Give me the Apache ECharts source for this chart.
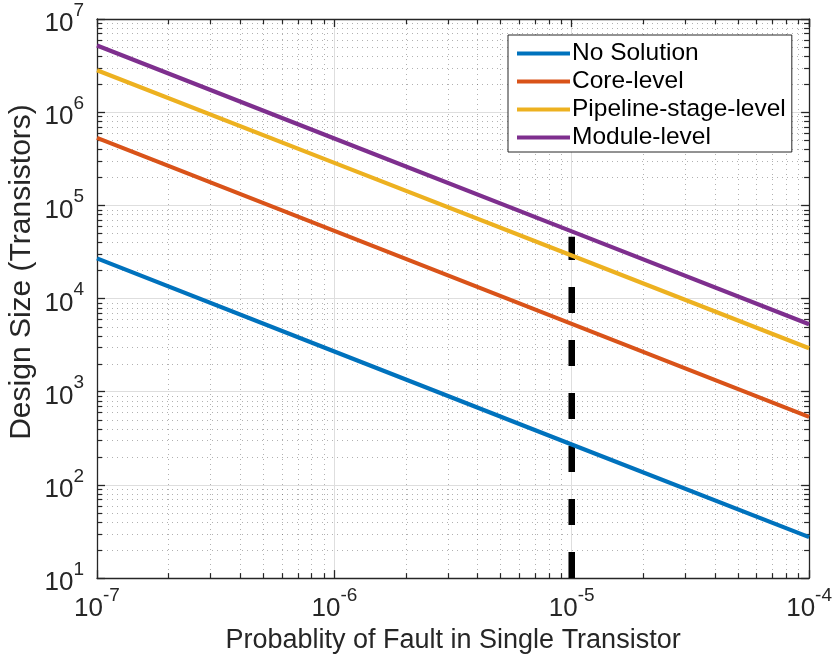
<!DOCTYPE html>
<html>
<head>
<meta charset="utf-8">
<script src="https://cdn.jsdelivr.net/npm/echarts@6/dist/echarts.min.js"></script>
<style>
  html, body { margin: 0; padding: 0; background: #fff; }
  #chart { width: 835px; height: 659px; }
</style>
</head>
<body>
<div id="chart"></div>
<script>
// Fault probability per transistor (x) and the resulting design size limit (y)
const faultProb = [1e-7, 1e-6, 1e-5, 1e-4];
const noSolution = [2.7e4, 2.7e3, 272, 27.5];
const coreLevel = [5.3e5, 5.32e4, 5.35e3, 537];
const pipelineLevel = [2.82e6, 2.86e5, 2.9e4, 2.93e3];
const moduleLevel = [5.2e6, 5.22e5, 5.26e4, 5.3e3];
// Marker at the 1e-5 operating point
const markerX = 1e-5;
const markerY = [10, 4.6e4];

const seriesNames = ['No Solution', 'Core-level', 'Pipeline-stage-level', 'Module-level'];
const seriesColors = ['#0072BD', '#D95319', '#EDB120', '#7E2F8E'];
const seriesValues = [noSolution, coreLevel, pipelineLevel, moduleLevel];

const xMin = 1e-7, xMax = 1e-4, yMin = 10, yMax = 1e7;
const minorSteps = [2, 3, 4, 5, 6, 7, 8, 9];
const xExps = [-7, -6, -5];
const yExps = [1, 2, 3, 4, 5, 6];
const xMinor = [], yMinor = [];
xExps.forEach(e => minorSteps.forEach(m => xMinor.push(m * Math.pow(10, e))));
yExps.forEach(e => minorSteps.forEach(m => yMinor.push(m * Math.pow(10, e))));

const FONT = '"Liberation Sans", Arial, Helvetica, sans-serif';
const AXIS_COLOR = '#262626';

function powLabel(v) {
  const e = Math.round(Math.log10(v));
  return '{b|10}{s|' + e + '}';
}
const labelRich = {
  b: { fontSize: 26, fontFamily: FONT, color: AXIS_COLOR, verticalAlign: 'bottom', lineHeight: 36 },
  s: { fontSize: 19, fontFamily: FONT, color: AXIS_COLOR, verticalAlign: 'top', lineHeight: 36 }
};

const chart = echarts.init(document.getElementById('chart'), null, { renderer: 'canvas' });

const lineSeries = seriesNames.map((name, i) => ({
  name: name,
  type: 'line',
  data: faultProb.map((x, j) => [x, seriesValues[i][j]]),
  showSymbol: false,
  symbol: 'none',
  lineStyle: { color: seriesColors[i], width: 4.2 },
  itemStyle: { color: seriesColors[i] },
  z: 5,
  silent: true
}));

const option = {
  animation: false,
  backgroundColor: '#fff',
  grid: { left: 97, right: 25, top: 19, bottom: 80, containLabel: false },
  graphic: [{
    type: 'text',
    x: 22,
    y: 272,
    rotation: Math.PI / 2,
    silent: true,
    style: {
      text: 'Design Size (Transistors)',
      font: '30px ' + FONT,
      fill: AXIS_COLOR,
      textAlign: 'center',
      textVerticalAlign: 'middle'
    }
  }],
  legend: {
    data: seriesNames,
    orient: 'vertical',
    left: 508,
    top: 35,
    icon: 'rect',
    itemWidth: 53,
    itemHeight: 4,
    itemGap: 3,
    padding: [6, 6, 2, 9],
    backgroundColor: '#fff',
    borderColor: '#262626',
    borderWidth: 1,
    borderRadius: 0,
    textStyle: { fontSize: 24.5, fontFamily: FONT, color: '#000', lineHeight: 24, padding: [0, 0, 0, -3] },
    selectedMode: false
  },
  xAxis: [{
    type: 'log',
    min: xMin, max: xMax,
    splitNumber: 3,
    position: 'bottom',
    name: 'Probablity of Fault in Single Transistor',
    nameLocation: 'middle',
    nameGap: 48,
    nameTextStyle: { fontSize: 27, fontFamily: FONT, color: AXIS_COLOR },
    axisLine: { show: true, onZero: false, lineStyle: { color: AXIS_COLOR, width: 1.3 } },
    axisTick: { show: true, inside: true, length: 8, lineStyle: { color: AXIS_COLOR, width: 1.3 } },
    axisLabel: { formatter: powLabel, rich: labelRich, margin: 8 },
    splitLine: { show: true, lineStyle: { color: '#dedede', width: 1 } }
  }, {
    type: 'log',
    min: xMin, max: xMax,
    splitNumber: 3,
    position: 'top',
    axisLine: { show: true, onZero: false, lineStyle: { color: AXIS_COLOR, width: 1.3 } },
    axisTick: { show: true, inside: true, length: 8, lineStyle: { color: AXIS_COLOR, width: 1.3 } },
    axisLabel: { show: false },
    splitLine: { show: false }
  }],
  yAxis: [{
    type: 'log',
    min: yMin, max: yMax,
    splitNumber: 6,
    position: 'left',
    axisLine: { show: true, onZero: false, lineStyle: { color: AXIS_COLOR, width: 1.3 } },
    axisTick: { show: true, inside: true, length: 8, lineStyle: { color: AXIS_COLOR, width: 1.3 } },
    axisLabel: { formatter: powLabel, rich: labelRich, margin: 13 },
    splitLine: { show: true, lineStyle: { color: '#dedede', width: 1 } }
  }, {
    type: 'log',
    min: yMin, max: yMax,
    splitNumber: 6,
    position: 'right',
    axisLine: { show: true, onZero: false, lineStyle: { color: AXIS_COLOR, width: 1.3 } },
    axisTick: { show: true, inside: true, length: 8, lineStyle: { color: AXIS_COLOR, width: 1.3 } },
    axisLabel: { show: false },
    splitLine: { show: false }
  }],
  series: [
    {
      // minor dotted grid and minor ticks on all four sides
      type: 'custom',
      silent: true,
      z: 1,
      clip: false,
      data: [[xMin, yMin]],
      renderItem: function (params, api) {
        const lb = api.coord([xMin, yMin]);
        const rt = api.coord([xMax, yMax]);
        const left = lb[0], bottom = lb[1], right = rt[0], top = rt[1];
        const dotted = { stroke: 'rgba(60,60,60,0.4)', lineWidth: 1, lineDash: [1, 4] };
        const tick = { stroke: AXIS_COLOR, lineWidth: 1.2 };
        const kids = [];
        xMinor.forEach(v => {
          const px = Math.round(api.coord([v, yMin])[0]) + 0.5;
          kids.push({ type: 'line', shape: { x1: px, y1: top, x2: px, y2: bottom }, style: dotted });
          kids.push({ type: 'line', shape: { x1: px, y1: bottom, x2: px, y2: bottom - 5 }, style: tick });
          kids.push({ type: 'line', shape: { x1: px, y1: top, x2: px, y2: top + 5 }, style: tick });
        });
        yMinor.forEach(v => {
          const py = Math.round(api.coord([xMin, v])[1]) + 0.5;
          kids.push({ type: 'line', shape: { x1: left, y1: py, x2: right, y2: py }, style: dotted });
          kids.push({ type: 'line', shape: { x1: left, y1: py, x2: left + 5, y2: py }, style: tick });
          kids.push({ type: 'line', shape: { x1: right, y1: py, x2: right - 5, y2: py }, style: tick });
        });
        return { type: 'group', children: kids };
      }
    },
    ...lineSeries,
    {
      name: 'marker',
      type: 'line',
      data: markerY.map(y => [markerX, y]),
      showSymbol: false,
      symbol: 'none',
      silent: true,
      z: 4,
      lineStyle: { color: '#000', width: 6.5, type: [26, 27], cap: 'butt' }
    }
  ]
};

chart.setOption(option);
</script>
</body>
</html>
